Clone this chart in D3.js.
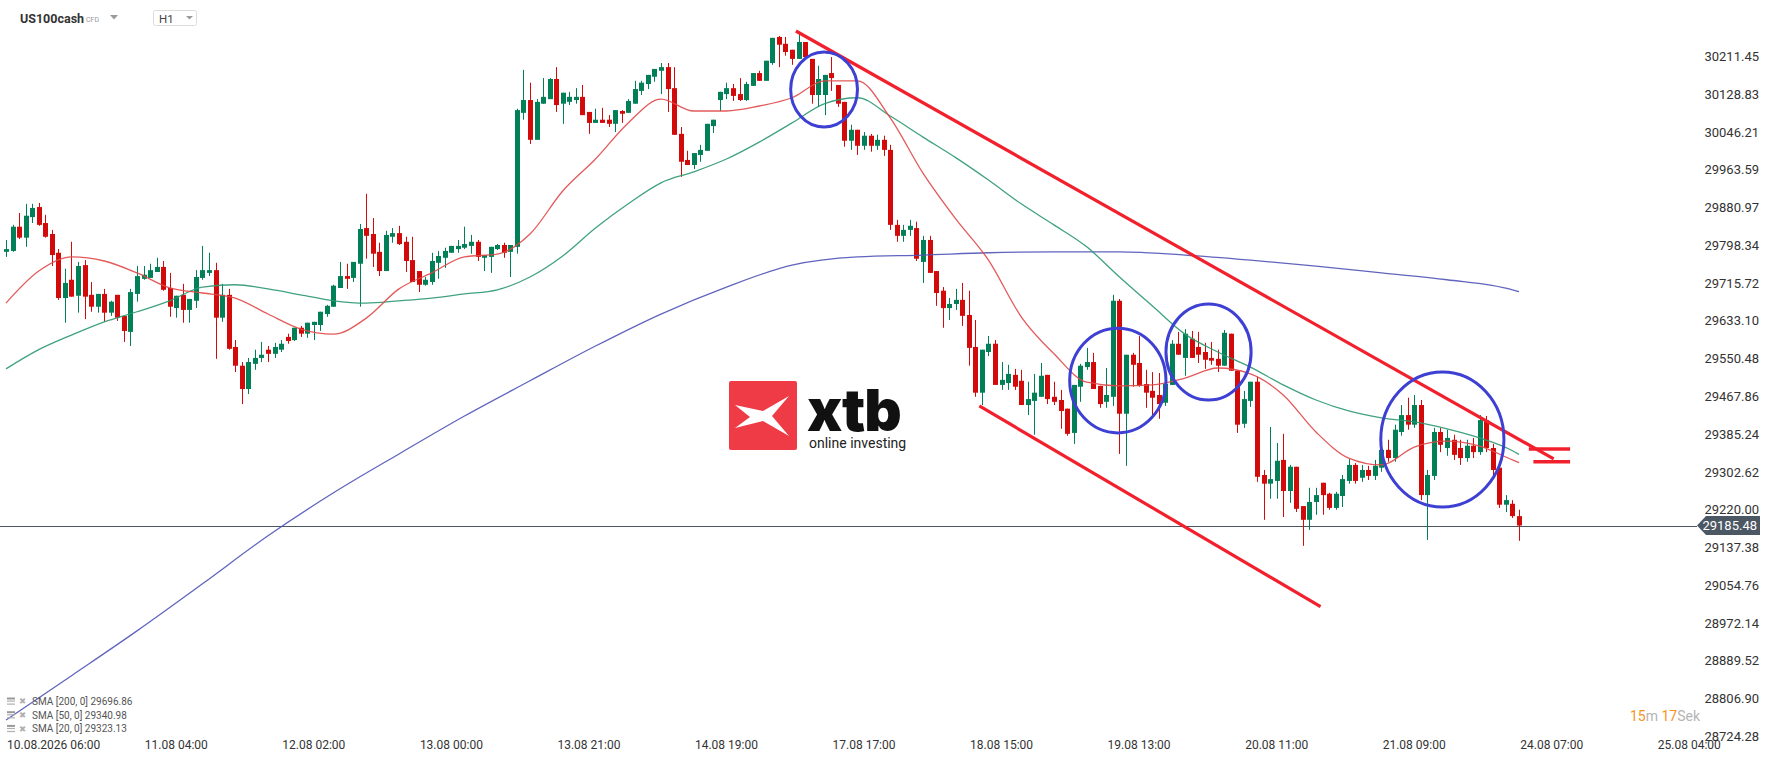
<!DOCTYPE html>
<html>
<head>
<meta charset="utf-8">
<script src="https://cdn.jsdelivr.net/npm/d3@7/dist/d3.min.js"></script>
<style>
html,body{margin:0;padding:0;background:#fff;}
svg{display:block;font-family:Roboto,"Noto Sans",sans-serif;}
</style>
</head>
<body>
<svg id="chart" width="1768" height="761"></svg>
<script>
// ---------- DATA ----------
const symbol = "US100cash";
const timeframe = "H1";
const currentPrice = 29185.48;

const openP = [
29784,29786,29839,29815,29860,29882,29847,29823,29782,29683,
29723,29688,29755,29690,29664,29692,29651,29690,29644,29609,
29692,29725,29727,29740,29751,29705,29661,29690,29657,29677,
29727,29738,29744,29640,29690,29576,29535,29484,29539,29552,
29570,29561,29570,29598,29591,29618,29605,29624,29624,29648,
29664,29705,29731,29727,29758,29836,29823,29784,29742,29817,
29825,29806,29766,29742,29712,29718,29760,29771,29782,29790,
29793,29797,29806,29771,29773,29790,29799,29784,29795,30088,
30116,30029,30108,30118,30162,30108,30112,30116,30123,30090,
30066,30073,30073,30064,30092,30088,30108,30136,30151,30167,
30180,30188,30142,30042,29985,29974,29996,30005,30059,30116,
30129,30142,30129,30116,30147,30175,30158,30197,30254,30239,
30226,30206,30243,30206,30127,30127,30175,30149,30112,30027,
30051,30016,30038,30016,30029,30007,29843,29819,29832,29836,
29762,29810,29742,29699,29661,29670,29679,29646,29576,29476,
29565,29583,29493,29497,29515,29502,29449,29458,29467,29515,
29467,29460,29441,29388,29489,29532,29543,29491,29456,29467,
29677,29430,29559,29541,29495,29480,29471,29454,29493,29583,
29552,29594,29576,29565,29552,29550,29535,29605,29524,29408,
29458,29500,29296,29277,29283,29329,29261,29314,29228,29198,
29237,29279,29255,29224,29250,29283,29318,29290,29307,29294,
29312,29351,29333,29390,29427,29406,29449,29252,29294,29390,
29355,29373,29355,29333,29360,29346,29416,29355,29312,29231,
29233,29206];

const closeP = [
29790,29839,29815,29863,29880,29843,29817,29777,29683,29716,
29686,29753,29686,29664,29692,29651,29675,29640,29611,29696,
29731,29734,29744,29751,29701,29664,29688,29657,29681,29729,
29744,29744,29640,29690,29572,29535,29484,29543,29552,29559,
29561,29576,29583,29589,29618,29605,29629,29631,29653,29666,
29710,29731,29725,29762,29834,29819,29780,29742,29821,29825,
29801,29764,29718,29712,29723,29764,29775,29786,29797,29797,
29801,29806,29773,29777,29795,29799,29782,29799,30094,30116,
30029,30112,30123,30162,30105,30132,30123,30123,30083,30066,
30073,30066,30064,30094,30086,30114,30140,30154,30171,30184,
30188,30140,30040,29981,29974,30000,30007,30064,30073,30134,
30142,30125,30116,30151,30175,30158,30202,30252,30237,30221,
30206,30243,30210,30127,30162,30171,30164,30108,30027,30051,
30016,30038,30016,30029,30007,29843,29819,29832,29841,29769,
29810,29738,29694,29661,29670,29679,29644,29574,29476,29570,
29583,29493,29504,29517,29489,29449,29462,29476,29513,29462,
29456,29436,29386,29493,29535,29543,29484,29451,29471,29677,
29430,29559,29537,29491,29476,29465,29451,29495,29583,29559,
29605,29552,29559,29548,29546,29535,29607,29524,29406,29462,
29500,29292,29277,29287,29327,29261,29314,29222,29198,29237,
29252,29252,29224,29255,29287,29318,29283,29307,29294,29316,
29351,29333,29395,29427,29406,29449,29252,29296,29390,29362,
29377,29340,29333,29360,29346,29416,29355,29307,29231,29241,
29206,29185.48];

const highP = [
29810,29843,29869,29889,29889,29891,29865,29832,29790,29747,
29806,29762,29766,29718,29692,29703,29677,29690,29644,29703,
29753,29753,29758,29771,29764,29738,29688,29714,29681,29744,
29797,29782,29760,29714,29703,29591,29543,29552,29570,29587,
29578,29585,29591,29605,29618,29622,29629,29631,29653,29668,
29712,29762,29758,29762,29845,29911,29858,29804,29830,29836,
29841,29817,29817,29742,29729,29782,29786,29793,29797,29810,
29839,29821,29810,29777,29795,29801,29804,29799,30097,30182,
30154,30118,30164,30164,30188,30132,30134,30142,30149,30090,
30097,30099,30083,30094,30094,30118,30158,30158,30171,30184,
30197,30197,30188,30057,30005,30000,30018,30064,30073,30134,
30154,30151,30164,30156,30175,30180,30202,30252,30256,30254,
30226,30263,30243,30206,30191,30171,30210,30149,30112,30062,
30051,30046,30042,30040,30038,30018,29854,29843,29854,29850,
29819,29819,29742,29707,29683,29703,29716,29699,29635,29570,
29600,29591,29543,29537,29528,29526,29500,29517,29541,29515,
29500,29482,29441,29493,29539,29574,29563,29491,29530,29690,
29681,29559,29563,29600,29526,29521,29519,29504,29591,29609,
29615,29611,29609,29585,29587,29570,29613,29605,29524,29480,
29500,29511,29307,29401,29366,29386,29318,29314,29228,29268,
29268,29279,29257,29259,29296,29331,29322,29318,29316,29329,
29360,29373,29406,29449,29465,29471,29460,29307,29399,29399,
29395,29384,29373,29373,29377,29427,29425,29364,29325,29252,
29241,29220];

const lowP = [
29773,29784,29812,29795,29847,29841,29815,29753,29679,29629,
29686,29651,29637,29653,29651,29631,29644,29633,29587,29578,
29675,29723,29727,29740,29699,29642,29640,29629,29629,29661,
29723,29731,29550,29631,29570,29521,29451,29473,29526,29543,
29543,29552,29565,29583,29589,29598,29596,29591,29611,29642,
29664,29705,29703,29718,29664,29769,29751,29731,29742,29804,
29799,29740,29718,29696,29710,29712,29725,29749,29782,29782,
29790,29780,29764,29742,29738,29788,29771,29729,29780,30073,
30020,30029,30108,30118,30090,30064,30105,30108,30083,30042,
30066,30066,30057,30046,30066,30088,30108,30127,30140,30156,
30129,30090,30040,29948,29974,29965,29981,30005,30044,30092,
30118,30114,30114,30114,30147,30158,30158,30193,30188,30213,
30193,30206,30210,30108,30101,30083,30136,30101,30014,30007,
29996,30007,30003,30007,29994,29832,29806,29806,29819,29764,
29716,29738,29666,29618,29635,29657,29622,29535,29467,29449,
29556,29493,29482,29482,29482,29449,29427,29384,29467,29451,
29449,29397,29382,29364,29456,29526,29484,29443,29443,29447,
29342,29316,29489,29489,29443,29425,29419,29447,29493,29559,
29513,29552,29541,29528,29537,29521,29535,29524,29388,29399,
29445,29281,29198,29244,29244,29204,29235,29215,29141,29176,
29209,29209,29220,29220,29226,29277,29277,29281,29285,29285,
29303,29325,29325,29382,29395,29399,29241,29154,29285,29346,
29338,29329,29318,29325,29333,29340,29346,29294,29224,29215,
29202,29152];

// moving averages (bar index, value)
const sma20Bars = [0,5,10,15,20,25,30,35,40,45,50,55,60,65,70,75,80,85,90,95,100,105,110,115,120,125,130,135,140,145,150,155,160,165,170,175,180,185,190,195,200,205,210,215,220,225,230,231];
const sma20Vals = [29672,29742,29773,29764,29738,29705,29694,29683,29648,29615,29604,29639,29703,29738,29773,29779,29823,29917,29987,30066,30118,30092,30092,30103,30121,30158,30158,30077,29956,29856,29766,29642,29561,29499,29491,29493,29508,29530,29517,29471,29390,29333,29318,29357,29370,29359,29329,29323.13];
const sma50Bars = sma20Bars;
const sma50Vals = [29528,29570,29602,29631,29653,29677,29707,29712,29703,29690,29677,29672,29677,29683,29692,29701,29729,29775,29836,29889,29935,29959,29987,30024,30066,30108,30121,30081,30035,29990,29941,29889,29843,29795,29729,29666,29604,29565,29532,29493,29460,29436,29421,29412,29397,29377,29349,29340.98];
const sma200Bars = [0,10,20,30,40,50,60,70,80,90,100,110,120,130,140,150,160,170,180,190,200,210,220,230,231];
const sma200Vals = [28760,28857,28955,29058,29163,29257,29342,29425,29502,29578,29648,29707,29755,29773,29777,29782,29784,29784,29777,29766,29753,29738,29723,29701,29696.86];

const smaNames = ["SMA [200, 0]", "SMA [50, 0]", "SMA [20, 0]"];

const yTickLabels = ["30211.45","30128.83","30046.21","29963.59","29880.97","29798.34","29715.72","29633.10","29550.48","29467.86","29385.24","29302.62","29220.00","29137.38","29054.76","28972.14","28889.52","28806.90","28724.28"];
const xTickLabels = ["10.08.2026 06:00","11.08 04:00","12.08 02:00","13.08 00:00","13.08 21:00","14.08 19:00","17.08 17:00","18.08 15:00","19.08 13:00","20.08 11:00","21.08 09:00","24.08 07:00","25.08 04:00"];
const xTickBars = [5,26,47,68,89,110,131,152,173,194,215,236,257];

// drawn annotations, in (bar index, price)
const trendLines = [
  {b1:120.6, p1:30267, b2:236.3, p2:29331},
  {b1:148.6, p1:29447, b2:200.7, p2:29008}
];
const circles = [ // left bar, right bar, top price, bottom price
  {b1:119.8, b2:130.0, top:30221, bot:30057},
  {b1:162.4, b2:177.1, top:29617, bot:29388},
  {b1:177.1, b2:190.1, top:29670, bot:29460},
  {b1:209.9, b2:228.7, top:29521, bot:29226}
];
const eqMarks = [
  {b1:232.5, b2:238.8, p:29353},
  {b1:233.2, b2:238.8, p:29325}
];
const timerParts = [["15","#f7941d"],["m","#b4b4b4"],[" 17","#f7941d"],["Sek","#b4b4b4"]];

// ---------- DRAW ----------
const svg = d3.select("#chart");
const x = d3.scaleLinear().domain([0, 231]).range([6, 1519]);
const y = d3.scaleLinear().domain([28724.28, 30211.45]).range([736.4, 56.4]);

const GREEN = "#017f56", RED = "#d20a0a";

// header
const hdr = svg.append("g");
hdr.append("text").attr("x", 20).attr("y", 23).attr("font-size", 12.5).attr("font-weight", 700).attr("fill", "#333").text(symbol);
hdr.append("text").attr("x", 86).attr("y", 22).attr("font-size", 7).attr("fill", "#999").text("CFD");
hdr.append("path").attr("d", "M110,15 L118,15 L114,19.5 Z").attr("fill", "#9a9a9a");
hdr.append("rect").attr("x", 153.5).attr("y", 10.5).attr("width", 43).attr("height", 15).attr("rx", 2).attr("fill", "#fff").attr("stroke", "#dcdcdc");
hdr.append("text").attr("x", 159).attr("y", 22.5).attr("font-size", 11.5).attr("fill", "#444").text(timeframe);
hdr.append("path").attr("d", "M186,16 L193,16 L189.5,19.5 Z").attr("fill", "#9a9a9a");

// logo
const logo = svg.append("g");
logo.append("rect").attr("x", 729).attr("y", 381).attr("width", 68).attr("height", 69).attr("rx", 2).attr("fill", "#ee3b45");
logo.append("path").attr("d", "M735,405 L763,411 L789,396 L772,416 L789,436 L763,421 L735,428 L750,417 Z").attr("fill", "#fff");
logo.append("text").attr("x", 807).attr("y", 431).attr("font-size", 58).attr("font-weight", 900).attr("font-family", "Inter, Roboto, sans-serif").attr("letter-spacing", -1).attr("fill", "#111").text("xtb");
logo.append("text").attr("x", 809).attr("y", 448).attr("font-size", 14).attr("font-weight", 400).attr("fill", "#222").text("online investing");

// current price line
svg.append("line").attr("x1", 0).attr("x2", 1697).attr("y1", Math.round(y(currentPrice)) + 0.5).attr("y2", Math.round(y(currentPrice)) + 0.5).attr("stroke", "#4b5763").attr("stroke-width", 1);

// candles
const idx = d3.range(openP.length);
const cg = svg.append("g");
cg.selectAll("line.w").data(idx).join("line")
  .attr("x1", i => Math.round(x(i)) + 0.5).attr("x2", i => Math.round(x(i)) + 0.5)
  .attr("y1", i => y(highP[i])).attr("y2", i => y(lowP[i]))
  .attr("stroke", i => closeP[i] >= openP[i] ? GREEN : RED).attr("stroke-width", 1);
cg.selectAll("rect.b").data(idx).join("rect")
  .attr("x", i => Math.round(x(i)) - 2)
  .attr("width", 5)
  .attr("y", i => Math.min(y(openP[i]), y(closeP[i])))
  .attr("height", i => Math.max(1, Math.abs(y(openP[i]) - y(closeP[i]))))
  .attr("fill", i => closeP[i] >= openP[i] ? GREEN : RED);

// SMA lines
function smaLine(bars, vals, color, w) {
  const pts = bars.map((b, k) => [x(b), y(vals[k])]);
  svg.append("path").attr("d", d3.line().curve(d3.curveMonotoneX)(pts))
    .attr("fill", "none").attr("stroke", color).attr("stroke-width", w).attr("stroke-opacity", 0.9);
}
smaLine(sma200Bars, sma200Vals, "#4f53b6", 1.3);
smaLine(sma50Bars, sma50Vals, "#2b9870", 1.3);
smaLine(sma20Bars, sma20Vals, "#e04848", 1.3);

// annotations
const ag = svg.append("g");
trendLines.forEach(t => ag.append("line")
  .attr("x1", x(t.b1)).attr("y1", y(t.p1)).attr("x2", x(t.b2)).attr("y2", y(t.p2))
  .attr("stroke", "#f2202c").attr("stroke-width", 3.2));
circles.forEach(c => ag.append("ellipse")
  .attr("cx", (x(c.b1) + x(c.b2)) / 2).attr("cy", (y(c.top) + y(c.bot)) / 2)
  .attr("rx", (x(c.b2) - x(c.b1)) / 2).attr("ry", (y(c.bot) - y(c.top)) / 2)
  .attr("fill", "none").attr("stroke", "#3d40d2").attr("stroke-width", 3));
eqMarks.forEach(m => ag.append("line")
  .attr("x1", x(m.b1)).attr("x2", x(m.b2)).attr("y1", y(m.p)).attr("y2", y(m.p))
  .attr("stroke", "#f2202c").attr("stroke-width", 3.5));

// y axis labels
svg.append("g").selectAll("text").data(yTickLabels).join("text")
  .attr("x", 1759).attr("y", d => y(+d)).attr("dy", "0.35em")
  .attr("text-anchor", "end").attr("font-size", 13).attr("fill", "#333").text(d => d);

// price tag
const py = y(currentPrice);
svg.append("path").attr("d", `M1697,${py} L1706,${py - 9.5} L1760,${py - 9.5} L1760,${py + 9.5} L1706,${py + 9.5} Z`).attr("fill", "#4b5763");
svg.append("text").attr("x", 1757).attr("y", py).attr("dy", "0.36em").attr("text-anchor", "end").attr("font-size", 13).attr("fill", "#fff").text(currentPrice.toFixed(2));

// x axis labels
svg.append("g").selectAll("text").data(xTickLabels).join("text")
  .attr("x", (d, k) => k === 0 ? 7 : x(xTickBars[k]))
  .attr("y", 749)
  .attr("text-anchor", (d, k) => k === 0 ? "start" : "middle")
  .attr("font-size", 12).attr("fill", "#333").text(d => d);

// legend
const legVals = [sma200Vals[sma200Vals.length - 1], sma50Vals[sma50Vals.length - 1], sma20Vals[sma20Vals.length - 1]];
const lg = svg.append("g");
smaNames.forEach((n, k) => {
  const cy = 701.5 + k * 13.7;
  lg.append("rect").attr("x", 7).attr("y", cy - 4).attr("width", 8).attr("height", 2).attr("fill", "#9a9a9a");
  lg.append("rect").attr("x", 7).attr("y", cy - 1).attr("width", 8).attr("height", 1.2).attr("fill", "#b0b0b0");
  lg.append("rect").attr("x", 7).attr("y", cy + 2).attr("width", 8).attr("height", 1.2).attr("fill", "#b0b0b0");
  lg.append("text").attr("x", 19).attr("y", cy).attr("dy", "0.35em").attr("font-size", 8.5).attr("fill", "#b0b0b0").attr("font-family", "DejaVu Sans").text("\u2716");
  lg.append("text").attr("x", 32).attr("y", cy).attr("dy", "0.35em").attr("font-size", 10).attr("fill", "#555").text(n + " " + legVals[k].toFixed(2));
});

// timer
const tt = svg.append("text").attr("x", 1630).attr("y", 721).attr("font-size", 14);
timerParts.forEach(p => tt.append("tspan").attr("fill", p[1]).text(p[0]));
</script>
</body>
</html>
